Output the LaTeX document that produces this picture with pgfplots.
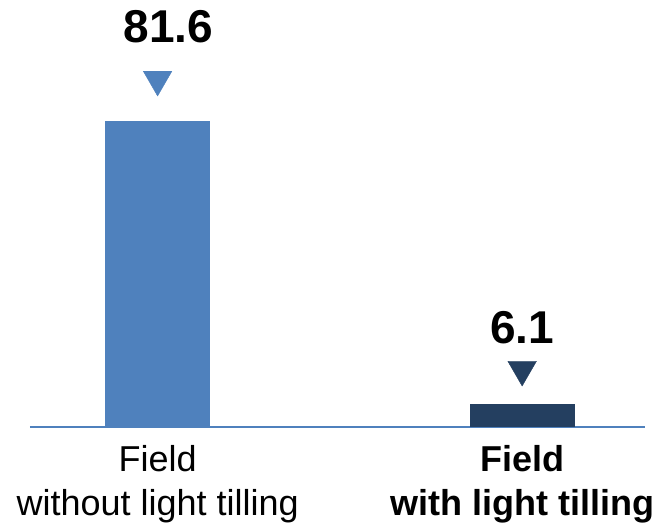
\documentclass[border=0pt]{standalone}
\usepackage{pgfplots}
\pgfplotsset{compat=1.18}
\usepackage{fontspec}
\setmainfont{Liberation Sans}
\definecolor{barblue}{HTML}{4F81BD}
\definecolor{barnavy}{HTML}{243F60}

\begin{document}
\begin{tikzpicture}
\path[use as bounding box] (0,0) rectangle (662pt,526pt);
\begin{axis}[
    at={(30pt,99pt)}, anchor=south west,
    scale only axis,
    width=615pt, height=427pt,
    xmin=-0.35, xmax=1.337,
    ymin=0, ymax=113.87,
    axis x line=bottom, axis y line=none,
    x axis line style={-, barblue, line width=2pt},
    xtick={0,1},
    xticklabels={Field\\without light tilling, \textbf{Field}\\\textbf{with light tilling}},
    xtick style={draw=none},
    xticklabel style={align=center, font=\fontsize{36}{44}\selectfont, yshift=-13pt},
    bar width=0.288,
    clip=false,
    every node near coord/.append style={
        anchor=base, black,
        font=\bfseries\fontsize{46}{50}\selectfont},
]
% bars
\addplot[ybar, bar shift=0pt, fill=barblue, draw=none] coordinates {(0,81.6)};
\addplot[ybar, bar shift=0pt, fill=barnavy, draw=none] coordinates {(1,6.1)};
% pointers and value labels
\addplot[only marks, mark=triangle*, mark size=16.5pt, color=barblue,
    mark options={yshift=41.5pt, rotate=180},
    nodes near coords={\pgfmathprintnumber[fixed, fixed zerofill, precision=1, assume math mode=true]{\pgfplotspointmeta}},
    every node near coord/.append style={yshift=37pt, xshift=11pt}]
    coordinates {(0,81.6)};
\addplot[only marks, mark=triangle*, mark size=16.5pt, color=barnavy,
    mark options={yshift=34.6pt, rotate=180},
    nodes near coords={\pgfmathprintnumber[fixed, fixed zerofill, precision=1, assume math mode=true]{\pgfplotspointmeta}},
    every node near coord/.append style={yshift=26pt}]
    coordinates {(1,6.1)};
\end{axis}
\end{tikzpicture}
\end{document}
